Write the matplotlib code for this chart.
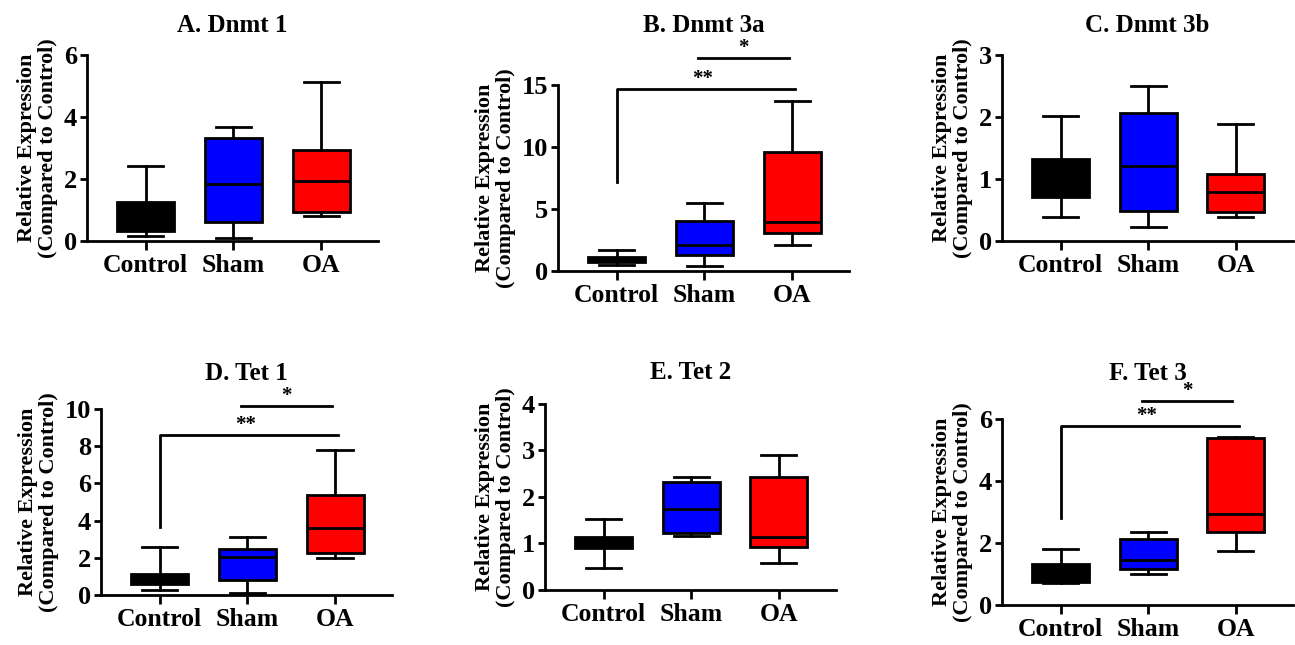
import matplotlib
matplotlib.use("Agg")
import matplotlib.pyplot as plt

plt.rcParams['font.family'] = ['Liberation Serif', 'DejaVu Serif']
plt.rcParams['font.weight'] = 'bold'

groups = ['Control', 'Sham', 'OA']
colors = ['#000000', '#0000FF', '#FF0000']

titles = ['A. Dnmt 1', 'B. Dnmt 3a', 'C. Dnmt 3b', 'D. Tet 1', 'E. Tet 2', 'F. Tet 3']
ymax = [6, 15, 3, 10, 4, 6]
ystep = [2, 5, 1, 2, 1, 2]

# box stats per panel: (whisker low, q1, median, q3, whisker high) for Control, Sham, OA
dnmt1 = [(0.16, 0.31, 0.90, 1.26, 2.41), (0.09, 0.61, 1.85, 3.33, 3.69), (0.82, 0.93, 1.93, 2.94, 5.14)]
dnmt3a = [(0.46, 0.73, 0.95, 1.13, 1.67), (0.38, 1.27, 2.07, 4.04, 5.52), (2.07, 3.10, 3.96, 9.56, 13.70)]
dnmt3b = [(0.38, 0.71, 1.00, 1.32, 2.01), (0.23, 0.48, 1.21, 2.06, 2.50), (0.39, 0.46, 0.79, 1.08, 1.88)]
tet1 = [(0.27, 0.59, 0.85, 1.11, 2.59), (0.13, 0.81, 2.05, 2.46, 3.11), (2.01, 2.28, 3.59, 5.39, 7.77)]
tet2 = [(0.47, 0.90, 1.00, 1.15, 1.53), (1.16, 1.23, 1.75, 2.32, 2.44), (0.59, 0.93, 1.15, 2.42, 2.90)]
tet3 = [(0.70, 0.75, 1.05, 1.31, 1.80), (0.99, 1.15, 1.45, 2.12, 2.35), (1.75, 2.34, 2.94, 5.39, 5.42)]
panels = [dnmt1, dnmt3a, dnmt3b, tet1, tet2, tet3]

# significance: (bracket height, left leg bottom, line height of Sham-OA bar) or None
sig = [None, (14.68, 7.19, 17.16), None, (8.58, 3.64, 10.16), None, (5.77, 2.80, 6.59)]

# layout (figure fractions) and title heights
axpos = [(0.0672, 0.6264), (0.4309, 0.5798), (0.7737, 0.6264),
         (0.0780, 0.0775), (0.4208, 0.0853), (0.7737, 0.0620)]
title_y = [1.124, 1.285, 1.124, 1.156, 1.134, 1.21]

fig = plt.figure(figsize=(12.95, 6.45), dpi=100)

for i in range(6):
    ax = fig.add_axes([axpos[i][0], axpos[i][1], 0.2247, 0.2884])
    stats = []
    for lo, q1, med, q3, hi in panels[i]:
        stats.append(dict(whislo=lo, q1=q1, med=med, q3=q3, whishi=hi, fliers=[]))
    bp = ax.bxp(stats, positions=[0, 1, 2], widths=0.65, capwidths=0.4,
                patch_artist=True, showfliers=False,
                boxprops=dict(linewidth=2, edgecolor='black'),
                medianprops=dict(color='black', linewidth=2),
                whiskerprops=dict(color='black', linewidth=2),
                capprops=dict(color='black', linewidth=2))
    for patch, c in zip(bp['boxes'], colors):
        patch.set_facecolor(c)

    ax.set_xlim(-0.67, 2.65)
    ax.set_ylim(0, ymax[i])
    ax.set_yticks(range(0, ymax[i] + 1, ystep[i]))
    ax.set_xticks([0, 1, 2])
    ax.set_xticklabels(groups, fontsize=18.5, fontweight='bold')
    for lab in ax.get_yticklabels():
        lab.set_fontsize(19)
        lab.set_fontweight('bold')
    for s in ['top', 'right']:
        ax.spines[s].set_visible(False)
    for s in ['left', 'bottom']:
        ax.spines[s].set_linewidth(2)
    ax.tick_params(axis='y', length=5, width=2, pad=2)
    ax.tick_params(axis='x', length=6.5, width=2, pad=3)
    ax.set_ylabel('Relative Expression\n(Compared to Control)', fontsize=16,
                  fontweight='bold', labelpad=4, linespacing=1.1)
    ax.set_title(titles[i], fontsize=18, fontweight='bold', y=title_y[i], pad=0)

    if sig[i] is not None:
        h, leg, h2 = sig[i]
        ax.plot([0, 0, 2.03], [leg, h, h], color='black', linewidth=2, clip_on=False)
        ax.text(0.98, h, '**', ha='center', va='bottom', fontsize=15, fontweight='bold')
        ax.plot([0.93, 1.96], [h2, h2], color='black', linewidth=2, clip_on=False)
        ax.text(1.45, h2, '*', ha='center', va='bottom', fontsize=15, fontweight='bold')

fig.savefig('out.png', dpi=100)
